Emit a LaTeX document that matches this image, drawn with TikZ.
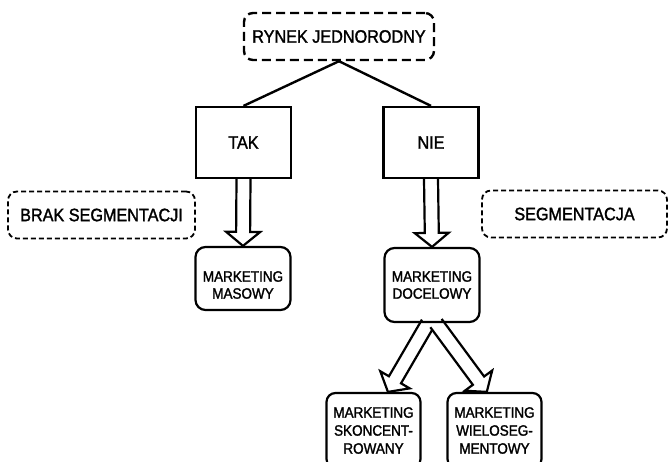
\documentclass[tikz,border=0pt]{standalone}
\usepackage{fontspec}
\setmainfont{Liberation Sans}[FakeStretch=0.9, FakeBold=1.6]
\usetikzlibrary{calc}
\pgfdeclarelayer{background}
\pgfsetlayers{background,main}

% wide outlined arrow from #1 to #2 (both named points)
\newcommand\hollowarrow[2]{%
  \draw[hollowshape]
    ($(#1)!7pt!90:(#2)$)
    -- ($(#2)!14pt!(#1)!7pt!90:(#2)$)
    -- ($(#2)!14pt!(#1)!17pt!90:(#2)$)
    -- (#2)
    -- ($(#2)!14pt!(#1)!17pt!-90:(#2)$)
    -- ($(#2)!14pt!(#1)!7pt!-90:(#2)$)
    -- ($(#1)!7pt!-90:(#2)$);}

\tikzset{
  bigtext/.style={font=\fontsize{18}{20}\selectfont},
  smalltext/.style={font=\fontsize{15}{17}\selectfont, align=center},
  headbox/.style={draw, line width=2.4pt, dash pattern=on 9pt off 5pt,
    rounded corners=9pt, minimum width=190pt, minimum height=47pt, bigtext},
  sidebox/.style={draw, line width=1.8pt, dash pattern=on 5pt off 3pt,
    rounded corners=9pt, minimum height=47pt, bigtext},
  choicebox/.style={draw, line width=2.2pt, minimum width=95pt,
    minimum height=71pt, bigtext},
  mktbox/.style={draw, line width=2.2pt, rounded corners=10pt,
    minimum width=95pt, smalltext},
  leafbox/.style={draw, line width=2.2pt, rounded corners=9pt,
    minimum width=94pt, minimum height=75pt,
    font=\fontsize{15}{18}\selectfont, align=center},
  link/.style={line width=2.4pt},
  hollowshape/.style={draw, fill=white, line width=2.2pt, line join=miter},
}

\begin{document}
\begin{tikzpicture}[x=1pt, y=-1pt]
  \useasboundingbox (0,0) rectangle (669,461);
  \clip (0,0) rectangle (669,461);

  % decision tree
  \node[headbox] (top) at (339,36.5) {RYNEK JEDNORODNY};
  \node[choicebox] (tak) at (243.5,142.5) {TAK};
  \node[choicebox] (nie) at (431,142.5) {NIE};

  % side notes
  \node[sidebox, minimum width=187pt] (brak) at (101.5,215) {BRAK SEGMENTACJI};
  \node[sidebox, minimum width=185pt] (segm) at (574.5,214) {SEGMENTACJA};

  % marketing types
  \node[mktbox, minimum height=63pt] (mas) at (243,278.5) {};
  \node[smalltext] (masT) at (243,285) {MARKETING\\MASOWY};
  \node[mktbox, minimum height=74pt] (doc) at (432,285) {MARKETING\\DOCELOWY};
  \node[leafbox] (skonc) at (373.5,430.5) {MARKETING\\SKONCENT-\\ROWANY};
  \node[leafbox] (wielo) at (494.5,430.5) {MARKETING\\WIELOSEG-\\MENTOWY};

  \coordinate (lstart) at ($(doc.south)+(-4,0)$);
  \coordinate (rstart) at ($(doc.south)+(4,0)$);
  \coordinate (ltip) at ($(skonc.north)!0.3!(skonc.north east)$);
  \coordinate (rtip) at ($(wielo.north)!0.16!(wielo.north west)$);

  \begin{pgfonlayer}{background}
    \draw[link] (top.south) -- (tak.north);
    \draw[link] (top.south) -- (nie.north);
    \hollowarrow{tak.south}{mas.north}
    \hollowarrow{nie.south}{doc.north}
    \hollowarrow{lstart}{ltip}
    \hollowarrow{rstart}{rtip}
  \end{pgfonlayer}
\end{tikzpicture}
\end{document}
